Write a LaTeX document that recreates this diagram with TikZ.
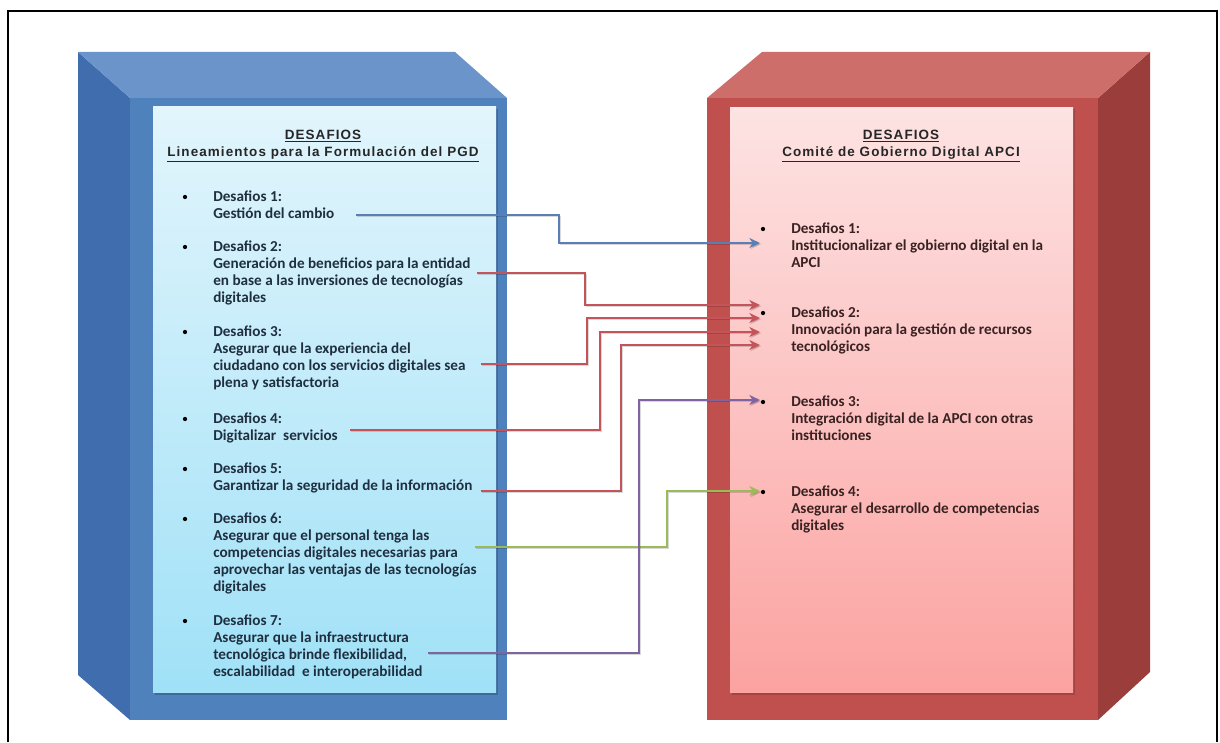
\documentclass[tikz,border=0pt]{standalone}
\usepackage{fontspec}
\setmainfont{Carlito}
\newfontfamily\titlefont[LetterSpace=8]{Liberation Sans}
\usetikzlibrary{arrows.meta}
\definecolor{bfront}{HTML}{4F81BD}
\definecolor{btop}{HTML}{6A94CA}
\definecolor{bside}{HTML}{406DAE}
\definecolor{bpanTop}{HTML}{E2F5FC}
\definecolor{bpanBot}{HTML}{A0E1F7}
\definecolor{rfront}{HTML}{C0504D}
\definecolor{rtop}{HTML}{CD6E6B}
\definecolor{rside}{HTML}{9B3E3B}
\definecolor{rpanTop}{HTML}{FDE3E3}
\definecolor{rpanBot}{HTML}{FBA3A1}
\definecolor{cblue}{HTML}{5A7FB6}
\definecolor{cred}{HTML}{C4545A}
\definecolor{cgreen}{HTML}{9BBB59}
\definecolor{cpurple}{HTML}{8064A2}
\definecolor{ltext}{HTML}{1F2F40}
\definecolor{rtext}{HTML}{3A2222}
\newcommand\mkblock[6]{%
  \node[dot] (#1-b) at (#2,#4) {};
  \foreach \t [count=\i] in {#6} {\node[#5, anchor=base west] (#1-\i) at (#3,{#4+4+(\i-1)*17.2}) {\t};}%
}
\begin{document}
\begin{tikzpicture}[x=0.75pt,y=-0.75pt,
  ltxt/.style={font=\fontsize{11.4}{13.5}\selectfont\bfseries, text=ltext, inner sep=0pt},
  rtxt/.style={font=\fontsize{11.4}{13.5}\selectfont\bfseries, text=rtext, inner sep=0pt},
  ttl/.style={font=\titlefont\fontsize{10.1}{12}\selectfont\bfseries, text=black!85, inner sep=0pt, anchor=base},
  dot/.style={circle, fill=black, inner sep=0pt, minimum size=3.2pt},
  conn/.style={line width=2pt, -{Stealth[length=8pt,width=7.5pt,inset=2.5pt]},
    preaction={draw=black, opacity=0.15, transform canvas={xshift=0.9pt,yshift=-0.9pt}}}]
\useasboundingbox (0,0) rectangle (1220,742);
\fill[white] (0,0) rectangle (1220,742);
% frame
\draw[line width=1.6pt] (8,742) -- (8,11) -- (1217,11) -- (1217,742);
% blue box
\fill[bside] (78,52) -- (130,98) -- (130,720) -- (78,675) -- cycle;
\fill[btop] (78,52) -- (455,52) -- (507,98) -- (130,98) -- cycle;
\fill[bfront] (130,98) rectangle (507,720);
\fill[black, opacity=0.18] (155,109) rectangle (498,695);
\shade[top color=bpanTop, bottom color=bpanBot] (153,106) rectangle (496,692);
% red box
\fill[rside] (1098,98) -- (1150,52) -- (1150,672) -- (1098,720) -- cycle;
\fill[rtop] (707,98) -- (762,52) -- (1150,52) -- (1098,98) -- cycle;
\fill[rfront] (707,98) rectangle (1098,720);
\fill[black, opacity=0.15] (732,109) rectangle (1075,695);
\shade[top color=rpanTop, bottom color=rpanBot] (730,107) rectangle (1073,692);
% titles
\node[ttl] (LT1) at (323,139.5) {\underline{DESAFIOS}};
\node[ttl] (LT2) at (323,156.5) {\underline{Lineamientos para la Formulación del PGD}};
\node[ttl] (RT1) at (901,139.5) {\underline{DESAFIOS}};
\node[ttl] (RT2) at (901,156.5) {\underline{Comité de Gobierno Digital APCI}};
% left items
\mkblock{L1}{185}{213}{197}{ltxt}{Desafios 1:,Gestión del cambio}
\mkblock{L2}{185}{213}{247}{ltxt}{Desafios 2:,Generación de beneficios para la entidad,en base a las inversiones de tecnologías,digitales}
\mkblock{L3}{185}{213}{332}{ltxt}{Desafios 3:,Asegurar que la experiencia del,ciudadano con los servicios digitales sea,plena y satisfactoria}
\mkblock{L4}{185}{213}{419}{ltxt}{Desafios 4:,Digitalizar\ \ servicios}
\mkblock{L5}{185}{213}{469}{ltxt}{Desafios 5:,Garantizar la seguridad de la información}
\mkblock{L6}{185}{213}{519}{ltxt}{Desafios 6:,Asegurar que el personal tenga las,competencias digitales necesarias para,aprovechar las ventajas de las tecnologías,digitales}
\mkblock{L7}{185}{213}{621}{ltxt}{Desafios 7:,Asegurar que la infraestructura,{tecnológica brinde flexibilidad,},escalabilidad\ \ e interoperabilidad}
% right items
\mkblock{R1}{763}{791}{229}{rtxt}{Desafios 1:,Institucionalizar el gobierno digital en la,APCI}
\mkblock{R2}{763}{791}{313}{rtxt}{Desafios 2:,Innovación para la gestión de recursos,tecnológicos}
\mkblock{R3}{763}{791}{402}{rtxt}{Desafios 3:,Integración digital de la APCI con otras,instituciones}
\mkblock{R4}{763}{791}{492}{rtxt}{Desafios 4:,Asegurar el desarrollo de competencias,digitales}
% connector ends
\coordinate (s1) at (356,215);
\coordinate (s2) at (477,273);
\coordinate (s3) at (481,364);
\coordinate (s4) at (350,430);
\coordinate (s5) at (481,491);
\coordinate (s6) at (475,547);
\coordinate (s7) at (428,653);
\coordinate (t1) at (760,243);
\coordinate (t2a) at (760,305);
\coordinate (t2b) at (760,318);
\coordinate (t2c) at (760,332);
\coordinate (t2d) at (760,345);
\coordinate (t3) at (760,400);
\coordinate (t4) at (760,491);
% connectors
\draw[conn, cblue] (s1) -- ++(203,0) |- (t1);
\draw[conn, cred] (s2) -- ++(108,0) |- (t2a);
\draw[conn, cred] (s3) -- ++(106,0) |- (t2b);
\draw[conn, cred] (s4) -- ++(250,0) |- (t2c);
\draw[conn, cred] (s5) -- ++(140,0) |- (t2d);
\draw[conn, cgreen] (s6) -- ++(192,0) |- (t4);
\draw[conn, cpurple] (s7) -- ++(211,0) |- (t3);
\end{tikzpicture}
\end{document}
